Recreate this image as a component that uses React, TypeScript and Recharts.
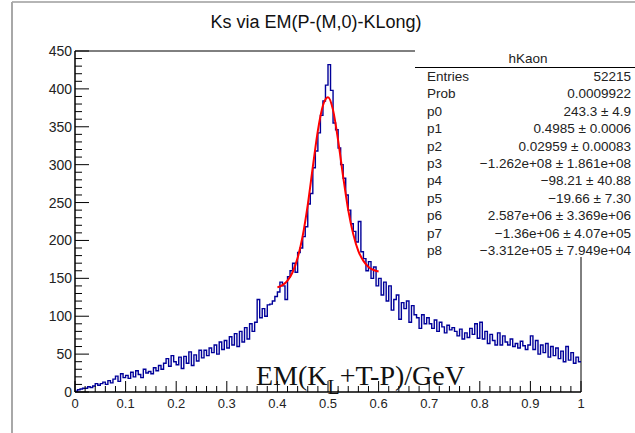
import { LineChart, Line, XAxis, YAxis, ReferenceArea } from 'recharts';

// histogram hKaon, 200 bins on [0, 1]
const binWidth = 0.005;
const binCounts = [
  1, 3, 4, 5, 5, 7, 6, 8, 11, 9,
  11, 13, 10, 15, 12, 17, 21, 14, 24, 19,
  22, 18, 26, 20, 28, 23, 19, 30, 25, 27,
  24, 32, 28, 35, 30, 38, 44, 34, 48, 40,
  36, 46, 31, 47, 38, 53, 35, 49, 41, 55,
  45, 55, 48, 58, 52, 62, 50, 66, 56, 68,
  58, 73, 62, 77, 60, 80, 66, 85, 70, 90,
  80, 92, 122, 98, 110, 100, 115, 116, 120, 126,
  132, 145, 140, 122, 152, 160, 170, 158, 184, 190,
  205, 218, 248, 262, 296, 318, 342, 365, 384, 405,
  432, 398, 355, 346, 322, 300, 282, 260, 240, 222,
  212, 198, 225, 185, 176, 160, 172, 150, 165, 140,
  150, 128, 145, 120, 140, 108, 122, 128, 96, 118,
  110, 120, 92, 114, 102, 98, 84, 102, 90, 98,
  90, 84, 95, 80, 92, 86, 78, 88, 82, 85,
  80, 74, 83, 70, 78, 72, 84, 76, 90, 71,
  92, 70, 80, 64, 76, 68, 62, 78, 62, 74,
  66, 62, 70, 60, 64, 58, 67, 61, 56, 62,
  74, 56, 68, 50, 62, 52, 64, 46, 60, 48,
  58, 44, 54, 40, 60, 42, 52, 38, 46, 40,
];

// fit curve (gaus + pol)
const fitX = [0.40, 0.41, 0.42, 0.43, 0.44, 0.45, 0.46, 0.47, 0.48, 0.49, 0.50,
  0.51, 0.52, 0.53, 0.54, 0.55, 0.56, 0.57, 0.58, 0.59, 0.60];
const fitY = [138, 141, 147, 158, 177, 206, 247, 297, 345, 378, 389,
  372, 332, 284, 240, 208, 186, 173, 165, 161, 159];

const xMajor = [0, 0.1, 0.2, 0.3, 0.4, 0.5, 0.6, 0.7, 0.8, 0.9, 1];
const yMajor = [0, 50, 100, 150, 200, 250, 300, 350, 400, 450];

const statNames = ['Entries', 'Prob', 'p0', 'p1', 'p2', 'p3', 'p4', 'p5', 'p6', 'p7', 'p8'];
const statValues = [
  '52215',
  '0.0009922',
  '243.3 ± 4.9',
  '0.4985 ± 0.0006',
  '0.02959 ± 0.00083',
  '−1.262e+08 ± 1.861e+08',
  '−98.21 ± 40.88',
  '−19.66 ± 7.30',
  '2.587e+06 ± 3.369e+06',
  '−1.36e+06 ± 4.07e+05',
  '−3.312e+05 ± 7.949e+04',
];

const histData = binCounts.map((c, i) => ({ x: i * binWidth, y: c }));
histData.push({ x: 1, y: binCounts[binCounts.length - 1] });
const fitData = fitX.map((x, i) => ({ x, y: fitY[i] }));

// minor ticks between the majors (5 per division)
const xTicks = Array.from({ length: 51 }, (_, i) => Math.round(i * 2) / 100);
const yTicks = Array.from({ length: 46 }, (_, i) => i * 10);
const isMajorX = (v: number) => xMajor.some((m) => Math.abs(m - v) < 1e-6);
const isMajorY = (v: number) => yMajor.includes(v);

const FONT = '"Liberation Sans", Arial, Helvetica, sans-serif';
const TICK_MARGIN = 4;

const XTick = (props: any) => {
  const { x, y, payload } = props;
  const v = payload.value;
  const major = isMajorX(v);
  const ay = y - TICK_MARGIN;
  const label = String(Math.round(v * 10) / 10);
  return (
    <g>
      <line x1={x} x2={x} y1={ay} y2={ay - (major ? 11 : 6)} stroke="#000" />
      {major && (
        <text x={x} y={ay + 16} textAnchor="middle" fontSize={13} fontFamily={FONT} fill="#222">
          {label}
        </text>
      )}
    </g>
  );
};

const YTick = (props: any) => {
  const { x, y, payload } = props;
  const v = payload.value;
  const major = isMajorY(v);
  const ax = x + TICK_MARGIN;
  return (
    <g>
      <line x1={ax} x2={ax + (major ? 14 : 7)} y1={y} y2={y} stroke="#000" />
      {major && (
        <text x={ax - 3} y={y} dy="0.36em" textAnchor="end" fontSize={14} fontFamily={FONT} fill="#222">
          {v}
        </text>
      )}
    </g>
  );
};

export default function App() {
  return (
    <div style={{ position: 'absolute', left: 0, top: 0, width: 635, height: 433, background: '#fff' }}>
      <LineChart width={635} height={433} margin={{ top: 51, right: 54, bottom: 11, left: 0 }}>
        <XAxis
          dataKey="x"
          type="number"
          domain={[0, 1]}
          ticks={xTicks}
          interval={0}
          tickSize={0}
          tickMargin={TICK_MARGIN}
          tick={<XTick />}
          height={30}
          axisLine={{ stroke: '#000' }}
          allowDuplicatedCategory={false}
        />
        <YAxis
          type="number"
          domain={[0, 450]}
          ticks={yTicks}
          interval={0}
          tickSize={0}
          tickMargin={TICK_MARGIN}
          tick={<YTick />}
          width={75}
          axisLine={{ stroke: '#000' }}
        />
        <ReferenceArea x1={0} x2={1} y1={0} y2={450} fill="none" stroke="#000" strokeWidth={1} ifOverflow="visible" />
        <Line
          data={histData}
          dataKey="y"
          type="stepAfter"
          stroke="#000099"
          strokeWidth={1.4}
          dot={false}
          isAnimationActive={false}
        />
        <Line
          data={fitData}
          dataKey="y"
          type="monotone"
          stroke="#ff0000"
          strokeWidth={2}
          dot={false}
          isAnimationActive={false}
        />
      </LineChart>
      <svg
        width={635}
        height={433}
        style={{ position: 'absolute', left: 0, top: 0, pointerEvents: 'none' }}
      >
        <line x1={12} x2={635} y1={2} y2={2} stroke="#b5b5b5" strokeWidth={2} />
        <line x1={12} x2={12} y1={2} y2={433} stroke="#a8a8a8" strokeWidth={2} />
        <text x={316} y={28} textAnchor="middle" fontSize={18} fontFamily={FONT} fill="#111">
          Ks via EM(P-(M,0)-KLong)
        </text>
        <rect x={415} y={44} width={220} height={213} fill="#fff" />
        <text x={528} y={63} textAnchor="middle" fontSize={13.5} fontFamily={FONT} fill="#222">
          hKaon
        </text>
        <line x1={415} x2={635} y1={67.5} y2={67.5} stroke="#000" />
        {statNames.map((n, i) => (
          <g key={n}>
            <text x={427} y={81 + i * 17.4} fontSize={13.5} fontFamily={FONT} fill="#222">
              {n}
            </text>
            <text x={631} y={81 + i * 17.4} textAnchor="end" fontSize={13.5} fontFamily={FONT} fill="#222">
              {statValues[i]}
            </text>
          </g>
        ))}
        <text x={256} y={385} fontSize={28} fontFamily='"Liberation Serif", "Times New Roman", serif' fill="#111">
          EM(K
          <tspan fontSize={20} dy={9}>L</tspan>
          <tspan fontSize={28} dy={-9}>+T-P)/GeV</tspan>
        </text>
      </svg>
    </div>
  );
}
